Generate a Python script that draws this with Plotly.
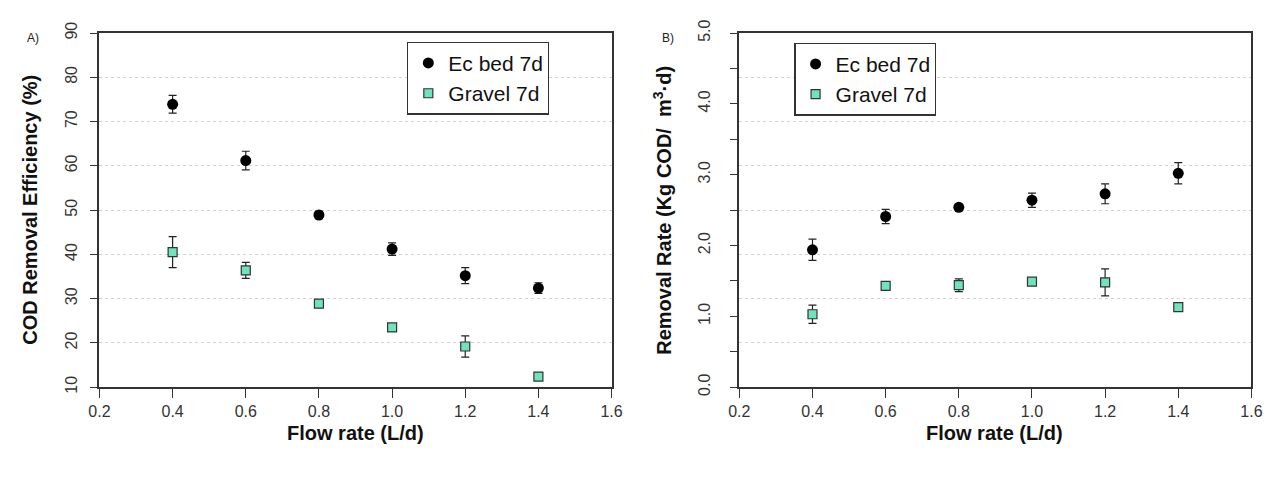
import plotly.graph_objects as go

# ---------------- data ----------------
flow = [0.4, 0.6, 0.8, 1.0, 1.2, 1.4]
x_ticks = [0.2, 0.4, 0.6, 0.8, 1.0, 1.2, 1.4, 1.6]

eff_ec = [73.9, 61.2, 48.9, 41.2, 35.2, 32.4]
eff_ec_err = [2.0, 2.1, 0.8, 1.4, 1.8, 1.2]
eff_gravel = [40.5, 36.4, 28.9, 23.5, 19.2, 12.4]
eff_gravel_err = [3.5, 1.8, 0.8, 0.7, 2.4, 0.6]

rate_ec = [1.94, 2.41, 2.54, 2.64, 2.73, 3.02]
rate_ec_err = [0.15, 0.10, 0.04, 0.10, 0.14, 0.15]
rate_gravel = [1.03, 1.43, 1.44, 1.49, 1.48, 1.13]
rate_gravel_err = [0.13, 0.05, 0.09, 0.04, 0.19, 0.05]

eff_ticks = [10, 20, 30, 40, 50, 60, 70, 80, 90]
rate_ticks = [0.0, 1.0, 2.0, 3.0, 4.0, 5.0]
grid_ticks = [20, 30, 40, 50, 60, 70, 80]

# ---------------- style ----------------
W, H = 1287, 480
FONT = "Liberation Sans, Arial, sans-serif"
EC_COLOR = "black"
GR_COLOR = "#6fe3bd"
ERR = dict(color="#222222", thickness=1.2, width=4)

def px(v):
    return v / W

def py(v):
    return 1 - v / H

fig = go.Figure()

def add_series(xa, ya, leg, ec, ec_err, gr, gr_err):
    fig.add_trace(go.Scatter(
        x=flow, y=ec, mode="markers", name="Ec bed 7d",
        xaxis=xa, yaxis=ya, legend=leg,
        error_y=dict(type="data", array=ec_err, **ERR),
        marker=dict(symbol="circle", size=11, color=EC_COLOR,
                    line=dict(width=0)),
    ))
    fig.add_trace(go.Scatter(
        x=flow, y=gr, mode="markers", name="Gravel 7d",
        xaxis=xa, yaxis=ya, legend=leg,
        error_y=dict(type="data", array=gr_err, **ERR),
        marker=dict(symbol="square", size=9, color=GR_COLOR,
                    line=dict(width=1.2, color="#333333")),
    ))

add_series("x", "y", "legend", eff_ec, eff_ec_err, eff_gravel, eff_gravel_err)
add_series("x2", "y2", "legend2", rate_ec, rate_ec_err, rate_gravel, rate_gravel_err)
# empty trace to activate grid overlay axis on right panel
fig.add_trace(go.Scatter(x=[], y=[], xaxis="x2", yaxis="y3", showlegend=False,
                         hoverinfo="skip"))

tickfont = dict(family=FONT, size=16, color="#333333")
common_x = dict(
    range=[0.2, 1.6], tickvals=x_ticks, ticktext=[f"{v:.1f}" for v in x_ticks],
    ticks="outside", ticklen=9, tickwidth=1.2, tickcolor="#333333",
    showline=True, mirror=True, linecolor="#333333", linewidth=1.5,
    showgrid=False, zeroline=False, tickfont=tickfont, fixedrange=True,
)
common_y = dict(
    ticks="outside", ticklen=8, tickwidth=1.2, tickcolor="#333333",
    showline=True, mirror=True, linecolor="#333333", linewidth=1.5,
    zeroline=False, tickfont=tickfont, tickangle=-90,
)

ydom = [py(392), py(20)]
fig.update_layout(
    width=W, height=H,
    margin=dict(l=0, r=0, t=0, b=0),
    paper_bgcolor="white", plot_bgcolor="white",
    font=dict(family=FONT, color="#111111"),
    xaxis=dict(domain=[px(90), px(611)], anchor="y", **common_x),
    yaxis=dict(domain=ydom, anchor="x", range=[10, 90], tickvals=eff_ticks,
               showgrid=True, gridcolor="#d2d2d2", griddash="dot", gridwidth=1,
               ticklabelstandoff=6, **common_y),
    xaxis2=dict(domain=[px(741), px(1262)], anchor="y2", **common_x),
    yaxis2=dict(domain=ydom, anchor="x2", range=[0, 5], tickvals=rate_ticks,
                ticktext=[f"{v:.1f}" for v in rate_ticks], showgrid=False,
                ticklabelstandoff=13,
                minor=dict(tick0=0, dtick=0.5, ticks="outside", ticklen=8,
                           tickwidth=1.2, tickcolor="#333333", showgrid=False),
                **common_y),
    yaxis3=dict(overlaying="y2", anchor="x2", range=[10, 90], tickvals=grid_ticks,
                showgrid=True, gridcolor="#d2d2d2", griddash="dot", gridwidth=1,
                showticklabels=False, ticks="", showline=False, zeroline=False),
    legend=dict(x=px(403), y=py(29), xanchor="left", yanchor="top",
                bgcolor="white", bordercolor="#333333", borderwidth=1.2,
                font=dict(family=FONT, size=21, color="#111111"),
                tracegroupgap=0),
    legend2=dict(x=px(797), y=py(30), xanchor="left", yanchor="top",
                 bgcolor="white", bordercolor="#333333", borderwidth=1.2,
                 font=dict(family=FONT, size=21, color="#111111"),
                 tracegroupgap=0),
    showlegend=True,
)

title_font = dict(family=FONT, size=20, color="#111111")
ann = [
    dict(text="<b>Flow rate (L/d)</b>", x=px(350), y=py(440)),
    dict(text="<b>Flow rate (L/d)</b>", x=px(1001), y=py(440)),
    dict(text="<b>COD Removal Efficiency (%)</b>", x=px(19), y=py(206), textangle=-90),
    dict(text="<b>Removal Rate (Kg COD/  m<sup>3</sup>·d)</b>", x=px(662), y=py(206),
         textangle=-90),
]
for a in ann:
    fig.add_annotation(xref="paper", yref="paper", showarrow=False,
                       xanchor="center", yanchor="middle", font=title_font, **a)
fig.add_annotation(text="A)", x=px(22), y=py(25), xref="paper", yref="paper",
                   xanchor="center", yanchor="middle", showarrow=False,
                   font=dict(family=FONT, size=12, color="#222222"))
fig.add_annotation(text="B)", x=px(668), y=py(25), xref="paper", yref="paper",
                   xanchor="center", yanchor="middle", showarrow=False,
                   font=dict(family=FONT, size=12, color="#222222"))

fig.write_html(
    "out.html",
    post_script="document.body.style.margin='0';document.body.style.overflow='hidden';",
)
